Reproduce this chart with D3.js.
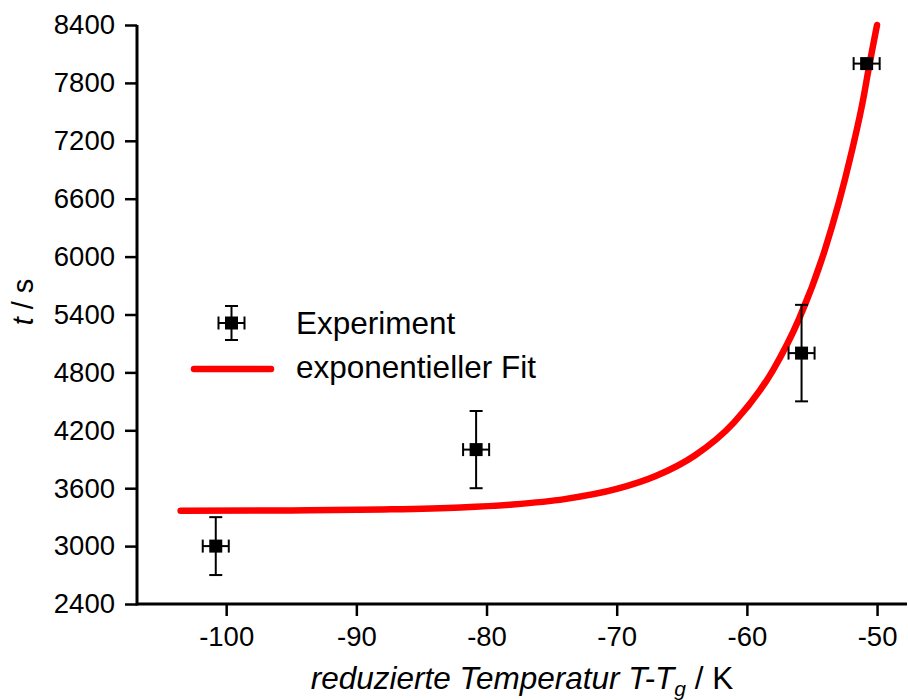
<!DOCTYPE html>
<html>
<head>
<meta charset="utf-8">
<script src="https://cdn.jsdelivr.net/npm/d3@7"></script>
<style>
  html, body { margin: 0; padding: 0; background: #fff; }
  svg { display: block; font-family: "Liberation Sans", Arial, sans-serif; }
</style>
</head>
<body>
<svg id="chart" width="908" height="700"></svg>
<script>
// ---- data ----
const expX = [-100.8, -80.8, -55.8, -50.8];
const expY = [3000, 4000, 5000, 8000];
const expXErr = [1.0, 1.0, 1.0, 1.0];
const expYErr = [300, 400, 500, 0];

// fit curve, points
const fitX = [-103.5, -95, -88, -82, -78, -74, -70, -67, -64, -61, -58, -56, -54, -52, -51, -50.8, -50.0];
const fitY = [3366, 3370, 3379, 3400, 3431, 3487, 3592, 3726, 3939, 4280, 4822, 5352, 6073, 7057, 7677, 7830, 8400];

const xMajor = [-100, -90, -80, -70, -60, -50];
const xMinor = [-105, -95, -85, -75, -65, -55];
const yMajor = [2400, 3000, 3600, 4200, 4800, 5400, 6000, 6600, 7200, 7800, 8400];
const yMinor = [2520, 2640, 2760, 2880, 3120, 3240, 3360, 3480, 3720, 3840, 3960, 4080,
  4320, 4440, 4560, 4680, 4920, 5040, 5160, 5280, 5520, 5640, 5760, 5880,
  6120, 6240, 6360, 6480, 6720, 6840, 6960, 7080, 7320, 7440, 7560, 7680,
  7920, 8040, 8160, 8280];

const seriesNames = ["Experiment", "exponentieller Fit"];

// ---- layout ----
const svg = d3.select("#chart");
const x = d3.scaleLinear().domain([-106.85, -47.7]).range([137, 907]);
const y = d3.scaleLinear().domain([2400, 8400]).range([604, 25]);
const tickFont = 27.5;
const titleFont = 31.5;
const FONT = '"Liberation Sans", Arial, sans-serif';

// x axis
const gx = svg.append("g").attr("transform", `translate(0,${y(2400)})`);
gx.call(d3.axisBottom(x).tickValues(xMinor).tickSize(7).tickFormat(""))
  .call(g => g.select(".domain").remove());
gx.call(d3.axisBottom(x).tickValues(xMajor).tickSize(12).tickPadding(10).tickFormat(d => d))
  .call(g => g.select(".domain").remove());
gx.selectAll("line").attr("stroke", "#000").attr("stroke-width", 2.5);
gx.selectAll("text").attr("font-size", tickFont).attr("fill", "#000").attr("font-family", FONT);

// y axis
const gy = svg.append("g").attr("transform", `translate(${x.range()[0]},0)`);
gy.call(d3.axisLeft(y).tickValues(yMinor).tickSize(7).tickFormat(""))
  .call(g => g.select(".domain").remove());
gy.call(d3.axisLeft(y).tickValues(yMajor).tickSize(12).tickPadding(10).tickFormat(d => d))
  .call(g => g.select(".domain").remove());
gy.selectAll("line").attr("stroke", "#000").attr("stroke-width", 2.5);
gy.selectAll("text").attr("font-size", tickFont).attr("fill", "#000").attr("font-family", FONT);

// axis lines
svg.append("line").attr("x1", x.range()[0]).attr("x2", x.range()[1])
  .attr("y1", y(2400)).attr("y2", y(2400)).attr("stroke", "#000").attr("stroke-width", 3);
svg.append("line").attr("x1", x.range()[0]).attr("x2", x.range()[0])
  .attr("y1", y(2400) + 1.5).attr("y2", y(8400)).attr("stroke", "#000").attr("stroke-width", 3);

// fit curve
const fitData = fitX.map((v, i) => [v, fitY[i]]);
svg.append("path").datum(fitData)
  .attr("d", d3.line().x(d => x(d[0])).y(d => y(d[1])).curve(d3.curveMonotoneX))
  .attr("fill", "none").attr("stroke", "#ff0000").attr("stroke-width", 6.5)
  .attr("stroke-linecap", "round").attr("stroke-linejoin", "round");

// experiment points with error bars
const cap = 6.5;
const pts = svg.append("g");
expX.forEach((vx, i) => {
  const cx = x(vx), cy = y(expY[i]);
  const g = pts.append("g").attr("stroke", "#000").attr("stroke-width", 2);
  if (expYErr[i] > 0) {
    const y1 = y(expY[i] + expYErr[i]), y2 = y(expY[i] - expYErr[i]);
    g.append("line").attr("x1", cx).attr("x2", cx).attr("y1", y1).attr("y2", y2);
    g.append("line").attr("x1", cx - cap).attr("x2", cx + cap).attr("y1", y1).attr("y2", y1);
    g.append("line").attr("x1", cx - cap).attr("x2", cx + cap).attr("y1", y2).attr("y2", y2);
  }
  const x1 = x(vx - expXErr[i]), x2 = x(vx + expXErr[i]);
  g.append("line").attr("x1", x1).attr("x2", x2).attr("y1", cy).attr("y2", cy);
  g.append("line").attr("x1", x1).attr("x2", x1).attr("y1", cy - cap).attr("y2", cy + cap);
  g.append("line").attr("x1", x2).attr("x2", x2).attr("y1", cy - cap).attr("y2", cy + cap);
  pts.append("rect").attr("x", cx - 6.5).attr("y", cy - 6.5).attr("width", 13).attr("height", 13)
    .attr("fill", "#000");
});

// legend
const lg = svg.append("g");
{
  const cx = 231.5, cy = 323;
  const g = lg.append("g").attr("stroke", "#000").attr("stroke-width", 2);
  g.append("line").attr("x1", cx).attr("x2", cx).attr("y1", cy - 17).attr("y2", cy + 17);
  g.append("line").attr("x1", cx - cap).attr("x2", cx + cap).attr("y1", cy - 17).attr("y2", cy - 17);
  g.append("line").attr("x1", cx - cap).attr("x2", cx + cap).attr("y1", cy + 17).attr("y2", cy + 17);
  g.append("line").attr("x1", cx - 13).attr("x2", cx + 13).attr("y1", cy).attr("y2", cy);
  g.append("line").attr("x1", cx - 13).attr("x2", cx - 13).attr("y1", cy - cap).attr("y2", cy + cap);
  g.append("line").attr("x1", cx + 13).attr("x2", cx + 13).attr("y1", cy - cap).attr("y2", cy + cap);
  lg.append("rect").attr("x", cx - 6.5).attr("y", cy - 6.5).attr("width", 13).attr("height", 13).attr("fill", "#000");
  lg.append("text").attr("x", 296).attr("y", 334).attr("font-size", titleFont).text(seriesNames[0]);
  lg.append("line").attr("x1", 194).attr("x2", 271).attr("y1", 369).attr("y2", 369)
    .attr("stroke", "#ff0000").attr("stroke-width", 6.5).attr("stroke-linecap", "round");
  lg.append("text").attr("x", 296).attr("y", 378).attr("font-size", titleFont).text(seriesNames[1]);
}

// axis titles
const xt = svg.append("text").attr("x", 522).attr("y", 689).attr("text-anchor", "middle")
  .attr("font-size", titleFont).attr("fill", "#000");
xt.append("tspan").attr("font-style", "italic").text("reduzierte Temperatur T-T");
xt.append("tspan").attr("font-style", "italic").attr("font-size", 21).attr("dy", 7).text("g");
xt.append("tspan").attr("dy", -7).text(" / K");

const yt = svg.append("text").attr("transform", `translate(33,302) rotate(-90)`)
  .attr("text-anchor", "middle").attr("font-size", 29).attr("fill", "#000");
yt.append("tspan").attr("font-style", "italic").text("t");
yt.append("tspan").text(" / s");
</script>
</body>
</html>
